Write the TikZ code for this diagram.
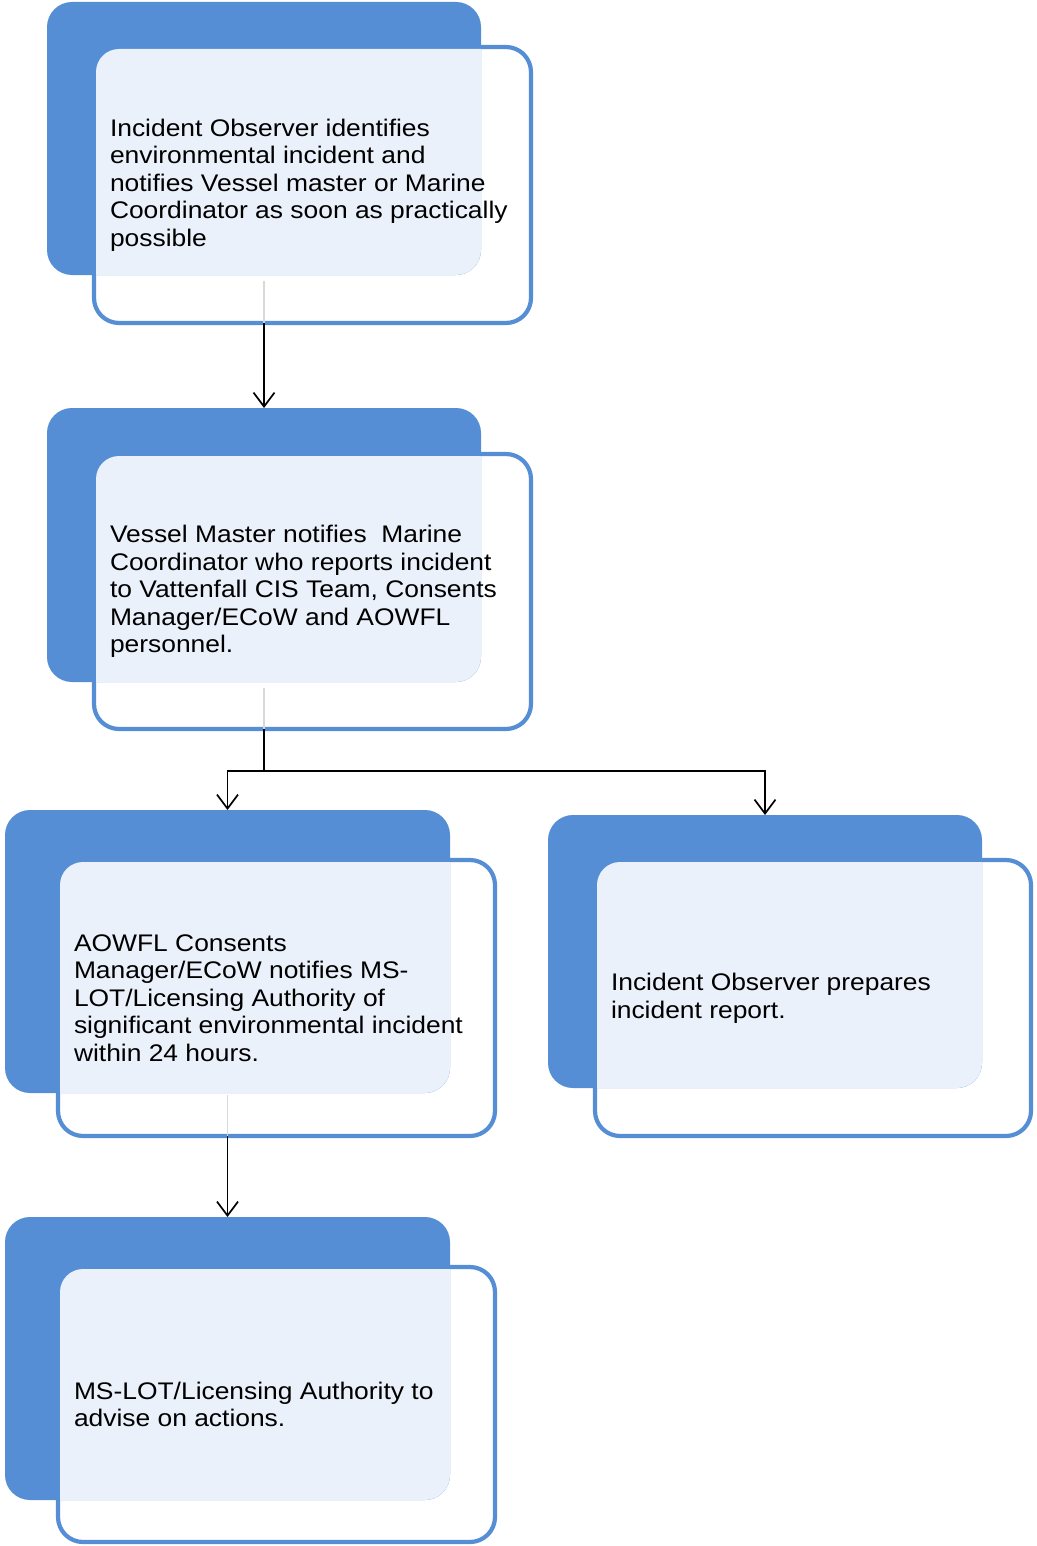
\documentclass[tikz,border=0pt]{standalone}
\usepackage{fontspec}
\setmainfont{Liberation Sans}[FakeStretch=1.1]
\usetikzlibrary{arrows.meta}
\definecolor{sablue}{RGB}{85,142,213}
\definecolor{salight}{RGB}{234,241,250}
\definecolor{saguide}{RGB}{217,217,217}
\tikzset{
  backbox/.style={rectangle, rounded corners=25pt, fill=sablue, inner sep=0pt, outer sep=0pt},
  frontbox/.style={rectangle, rounded corners=25pt, draw=sablue, line width=4.2pt, fill=white, inner sep=0pt, outer sep=0pt},
  tintbox/.style={rectangle, rounded corners=23pt, fill=salight, inner sep=0pt, outer sep=0pt},
  boxtext/.style={anchor=west, inner sep=0pt, outer sep=0pt, align=left, font=\fontsize{24}{27.6}\selectfont},
  flow/.style={line width=1.7pt, black},
  tipped/.style={flow, -{Straight Barb[length=14pt,width=21pt]}},
  guide/.style={line width=1.5pt, saguide}
}
% #1 name, #2 back centre, #3 back w, #4 back h, #5 front centre, #6 front w, #7 front h, #8 text
\newcommand{\stackbox}[8]{%
  \node[frontbox, minimum width=#6pt, minimum height=#7pt] (#1f) at #5 {};
  \node[backbox, minimum width=#3pt, minimum height=#4pt] (#1b) at #2 {};
  \begin{scope}
    \clip[rounded corners=25pt] (#1b.north west) rectangle (#1b.south east);
    \node[tintbox, minimum width=\the\numexpr#6-4\relax pt, minimum height=\the\numexpr#7-4\relax pt] at (#1f.center) {};
  \end{scope}
  \node[boxtext] (#1t) at ([xshift=16pt]#1f.west) {#8};
}
\begin{document}
\begin{tikzpicture}[x=1pt, y=-1pt]
\useasboundingbox (0,0) rectangle (1036,1546);

\stackbox{a}{(264,138.5)}{434}{273}{(312.5,185)}{437}{276}{Incident Observer identifies\\environmental incident and\\notifies Vessel master or Marine\\Coordinator as soon as practically\\possible}
\stackbox{b}{(264,545)}{434}{274}{(312.5,591.5)}{437}{275}{Vessel Master notifies\ \ Marine\\Coordinator who reports incident\\to Vattenfall CIS Team, Consents\\Manager/ECoW and AOWFL\\personnel.}
\stackbox{c}{(227.5,951.5)}{445}{283}{(276.5,998)}{437}{276}{AOWFL Consents\\Manager/ECoW notifies MS-\\LOT/Licensing Authority of\\significant environmental incident\\within 24 hours.}
\stackbox{d}{(765,951.5)}{434}{273}{(813,998)}{436}{276}{Incident Observer prepares\\incident report.}
\stackbox{e}{(227.5,1358.5)}{445}{283}{(276.5,1404.5)}{437}{275}{MS-LOT/Licensing Authority to\\advise on actions.}

\draw[guide] ([yshift=-6pt]ab.south) -- (ab.south |- af.south);
\draw[tipped] (ab.south |- af.south) -- (bb.north);

\coordinate (split) at (264,771);
\draw[guide] ([yshift=-6pt]bb.south) -- (bb.south |- bf.south);
\draw[flow] (bb.south |- bf.south) -- (split);
\draw[tipped] (split) -| (cb.north);
\draw[tipped] (split) -| (db.north);

\draw[guide] ([yshift=-2pt]cb.south) -- (cb.south |- cf.south);
\draw[tipped] (cb.south |- cf.south) -- (eb.north);
\end{tikzpicture}
\end{document}
